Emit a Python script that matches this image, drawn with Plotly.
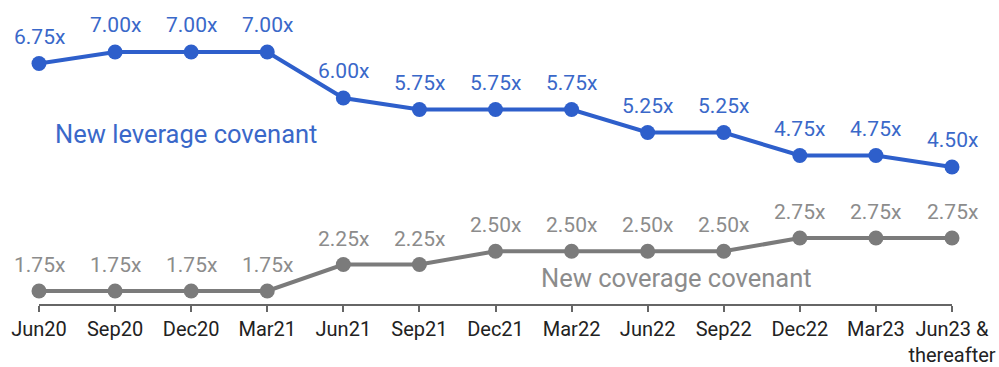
import plotly.graph_objects as go

# Covenant schedule by quarter
quarters = ["Jun20", "Sep20", "Dec20", "Mar21", "Jun21", "Sep21", "Dec21",
            "Mar22", "Jun22", "Sep22", "Dec22", "Mar23", "Jun23 &<br>thereafter"]
leverage = [6.75, 7.00, 7.00, 7.00, 6.00, 5.75, 5.75, 5.75, 5.25, 5.25, 4.75, 4.75, 4.50]
coverage = [1.75, 1.75, 1.75, 1.75, 2.25, 2.25, 2.50, 2.50, 2.50, 2.50, 2.75, 2.75, 2.75]

BLUE = "#2e5fcb"
BLUE_TXT = "#3a68c9"
GRAY = "#7b7b7b"
GRAY_TXT = "#8c8c8c"
FONT = "Roboto"

xpos = list(range(len(quarters)))

fig = go.Figure()
fig.add_trace(go.Scatter(
    x=xpos, y=leverage, mode="lines+markers", yaxis="y",
    line=dict(color=BLUE, width=4), marker=dict(color=BLUE, size=15),
    cliponaxis=False, hoverinfo="skip", showlegend=False))
fig.add_trace(go.Scatter(
    x=xpos, y=coverage, mode="lines+markers", yaxis="y2",
    line=dict(color=GRAY, width=4), marker=dict(color=GRAY, size=15),
    cliponaxis=False, hoverinfo="skip", showlegend=False))

annotations = []
for xi, v in zip(xpos, leverage):
    annotations.append(dict(x=xi, y=v, xref="x", yref="y", text=f"{v:.2f}x",
                            showarrow=False, yshift=27,
                            font=dict(family=FONT, size=21, color=BLUE_TXT)))
for xi, v in zip(xpos, coverage):
    annotations.append(dict(x=xi, y=v, xref="x", yref="y2", text=f"{v:.2f}x",
                            showarrow=False, yshift=26,
                            font=dict(family=FONT, size=21, color=GRAY_TXT)))

annotations.append(dict(x=1.93, y=5.22, xref="x", yref="y", text="New leverage covenant",
                        showarrow=False, font=dict(family=FONT, size=25.5, color=BLUE_TXT)))
annotations.append(dict(x=8.38, y=2.0, xref="x", yref="y2", text="New coverage covenant",
                        showarrow=False, font=dict(family=FONT, size=25.5, color=GRAY_TXT)))

fig.update_layout(
    width=999, height=367,
    margin=dict(l=39, r=47, t=20, b=63),
    paper_bgcolor="white", plot_bgcolor="white",
    font=dict(family=FONT, size=20, color="#222222"),
    annotations=annotations,
    xaxis=dict(range=[0, 12], tickvals=xpos, ticktext=quarters, automargin=False,
               showgrid=False, zeroline=False, showline=True,
               linecolor="#666666", linewidth=1.5,
               ticks="outside", ticklen=6, tickcolor="#666666", tickwidth=1.5,
               tickfont=dict(family=FONT, size=20, color="#222222")),
    yaxis=dict(range=[1.522, 7.696], visible=False, fixedrange=True),
    yaxis2=dict(range=[1.505, 6.863], visible=False, overlaying="y", fixedrange=True),
)

fig.write_html("out.html")
